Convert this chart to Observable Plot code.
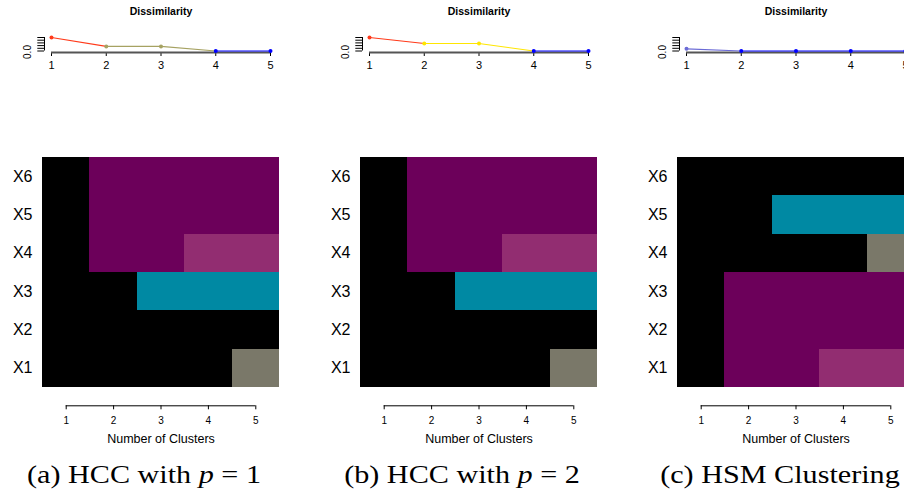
<!DOCTYPE html>
<html><head><meta charset="utf-8">
<script src="https://cdn.jsdelivr.net/npm/d3@7"></script>
<script src="https://cdn.jsdelivr.net/npm/@observablehq/plot@0.6"></script>
<style>
html,body{margin:0;padding:0;background:#fff;}
#root{position:relative;width:904px;height:493px;overflow:hidden;font-family:"Liberation Sans",Arial,sans-serif;}
.part{position:absolute;}
.part svg{display:block;max-width:none !important;}
.cap{position:absolute;top:460px;width:320px;height:30px;line-height:30px;text-align:center;font-family:"Liberation Serif",serif;font-size:26px;white-space:nowrap;color:#000;transform:scaleX(1.16);transform-origin:center;}
</style></head><body><div id="root"></div>
<script>
// ---- data ----
const clusterCounts = [1, 2, 3, 4, 5];
const variables = ["X1", "X2", "X3", "X4", "X5", "X6"];
const clusterColors = ["#000000", "#6c005a", "#0089a3", "#922d71", "#7a7869"]; // cluster id 1..5

// cluster id of X1..X6 for each number of clusters k = 1..5
const membershipA = [[1,1,1,1,1,1],[1,1,1,2,2,2],[1,1,3,2,2,2],[1,1,3,4,2,2],[5,1,3,4,2,2]];
const membershipB = [[1,1,1,1,1,1],[1,1,1,2,2,2],[1,1,3,2,2,2],[1,1,3,4,2,2],[5,1,3,4,2,2]];
const membershipC = [[1,1,1,1,1,1],[2,2,2,1,1,1],[2,2,2,1,3,1],[4,2,2,1,3,1],[4,2,2,5,3,1]];

const dissimA = [0.5, 0.17, 0.17, 0, 0];
const dissimB = [0.5, 0.28, 0.28, 0, 0];
const dissimC = [0.08, 0, 0, 0, 0];
const pointColorsA = ["#ff3a1a", "#a6a262", "#a6a262", "#0000ff", "#0000ff"];
const pointColorsB = ["#ff3a1a", "#ffe600", "#ffe600", "#0000ff", "#0000ff"];
const pointColorsC = ["#6b6bd6", "#0000ff", "#0000ff", "#0000ff", "#0000ff"];
const yTicks = [0, 0.1, 0.2, 0.3, 0.4, 0.5];
const yTickLabel = "0.0";
const topTitle = "Dissimilarity";
const xTitle = "Number of Clusters";
const captions = ["(a) HCC with <i>p</i> = 1", "(b) HCC with <i>p</i> = 2", "(c) HSM Clustering"];

// ---- layout ----
const panelW = 317.5;
const font = '"Liberation Sans", Arial, Helvetica, sans-serif';
const pxPerX = (270 - 51) / 4;
const pxPerY = 27;
const xPadMin = 1 - 7 / pxPerX;          // y-axis sits 7px left of x = 1
const yMinTop = -1.5 / pxPerY;           // x-axis line sits 1.5px below 0
const yLabelX = xPadMin - 17 / pxPerX;   // rotated "0.0" label position
const yLabelY = -1 / pxPerY;
const yMinHeat = 0.5 - 18.3 / 38.33;     // axis 18px below the cells

function topPlot(values, colors) {
  const pts = values.map((v, i) => ({k: clusterCounts[i], v, c: colors[i]}));
  const segs = pts.slice(0, -1).map((p, i) => ({k1: p.k, v1: p.v, k2: pts[i + 1].k, v2: pts[i + 1].v, c: p.c}));
  return Plot.plot({
    width: panelW, height: 75,
    marginLeft: 44, marginRight: panelW - 270, marginTop: 37, marginBottom: 23,
    x: {domain: [xPadMin, 5], ticks: clusterCounts, tickSize: 4, tickPadding: 5, tickFormat: d => String(d)},
    y: {domain: [yMinTop, 0.5], ticks: yTicks, tickSize: 6.7, tickFormat: () => ""},
    color: {type: "identity"},
    style: {fontSize: "11px", fontFamily: font, color: "#000", background: "transparent", overflow: "visible"},
    marks: [
      Plot.ruleX([xPadMin], {y1: 0, y2: 0.5, stroke: "#000"}),
      Plot.ruleY([yMinTop], {x1: 1, x2: 5, stroke: "#555", strokeWidth: 2}),
      Plot.link(segs, {x1: "k1", y1: "v1", x2: "k2", y2: "v2", stroke: "c", strokeWidth: 1.1}),
      Plot.dot(pts, {x: "k", y: "v", fill: "c", r: 2}),
      Plot.text([yTickLabel], {x: () => yLabelX, y: () => yLabelY, text: d => d, textAnchor: "middle", lineAnchor: "middle", rotate: -90, fontSize: 10}),
      Plot.text([topTitle], {text: d => d, frameAnchor: "top", lineAnchor: "middle", dx: 3.5, dy: -26, fontWeight: "bold", fontSize: 10.5})
    ]
  });
}

function heatmap(membership) {
  const cells = [];
  membership.forEach((ids, ki) => ids.forEach((id, vi) =>
    cells.push({k: clusterCounts[ki], row: vi + 1, fill: clusterColors[id - 1]})));
  return Plot.plot({
    width: panelW, height: 320,
    marginLeft: 42, marginRight: panelW - 279, marginTop: 17, marginBottom: 320 - (405.3 - 140),
    x: {domain: [0.5, 5.5], ticks: clusterCounts, tickSize: 4, tickPadding: 7, tickFormat: d => String(d)},
    y: {domain: [yMinHeat, 6.5], axis: null},
    color: {type: "identity"},
    style: {fontSize: "10px", fontFamily: font, color: "#000", background: "transparent"},
    marks: [
      Plot.rect(cells, {x1: d => d.k - 0.5, x2: d => d.k + 0.5, y1: d => d.row - 0.5, y2: d => d.row + 0.5, fill: "fill", shapeRendering: "crispEdges"}),
      Plot.ruleY([yMinHeat], {x1: 1, x2: 5, stroke: "#000"}),
      Plot.text(variables, {y: (d, i) => i + 1, text: d => d, frameAnchor: "left", textAnchor: "end", lineAnchor: "middle", dx: -10, fontSize: 16}),
      Plot.text([xTitle], {text: d => d, frameAnchor: "bottom", lineAnchor: "middle", dy: 33.5, fontSize: 12.5})
    ]
  });
}

const root = document.getElementById("root");
const panels = [
  [dissimA, pointColorsA, membershipA],
  [dissimB, pointColorsB, membershipB],
  [dissimC, pointColorsC, membershipC]
];
panels.forEach(([vals, cols, mem], i) => {
  const ox = i * panelW;
  const t = document.createElement("div");
  t.className = "part"; t.style.left = ox + "px"; t.style.top = "0px"; t.style.width = panelW + "px";
  t.appendChild(topPlot(vals, cols));
  root.appendChild(t);
  const h = document.createElement("div");
  h.className = "part"; h.style.left = ox + "px"; h.style.top = "140px"; h.style.width = panelW + "px";
  h.appendChild(heatmap(mem));
  root.appendChild(h);
  const c = document.createElement("div");
  c.className = "cap"; c.style.left = (144 + i * 318 - 160) + "px";
  c.innerHTML = captions[i];
  root.appendChild(c);
});
</script>
</body></html>
